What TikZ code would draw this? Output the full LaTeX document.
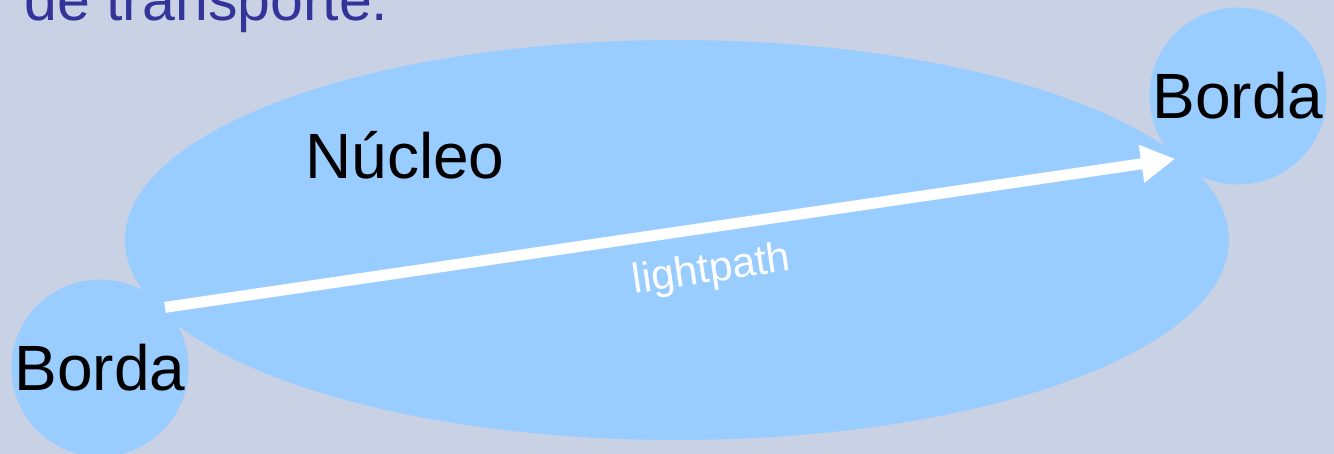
\documentclass[tikz,border=0pt]{standalone}
\usepackage{fontspec}
\setmainfont{Liberation Sans}
\usetikzlibrary{shapes.geometric, positioning, arrows.meta}
\definecolor{fundo}{HTML}{C8D2E4}
\definecolor{azulclaro}{HTML}{99CCFF}
\definecolor{azultitulo}{HTML}{333399}
\tikzset{
  nucleo/.style={ellipse, fill=azulclaro, minimum width=552pt, minimum height=200pt, inner sep=0pt},
  borda/.style={circle, fill=azulclaro, minimum size=88pt, inner sep=0pt, font=\fontsize{32}{37}\selectfont},
  arrow/.style={line width=5.5pt, white, -{Triangle[length=17pt, width=18pt]}}
}

\begin{document}
\begin{tikzpicture}[x=0.5pt, y=-0.5pt]
    \clip (0,0) rectangle (1334,454);
    \fill [fundo] (0,0) rectangle (1334,454);

    \node (titulo) [anchor=base west, text=azultitulo, font=\fontsize{29.5}{34}\selectfont, inner sep=0pt] at (24,21) {de transporte.};

    \node (core) [nucleo] at (677,240) {};
    \node (corelabel) [font=\fontsize{32}{37}\selectfont] at (405,155) {Núcleo};

    \node (lb) [borda] at (100,368) {Borda};
    \node (rb) [borda] at (1238,96) {Borda};

    % Caminho
    \draw [arrow] (lb.43) -- (rb.225)
      node [pos=0.535, sloped, below=6pt, font=\fontsize{21}{25}\selectfont] {lightpath};

\end{tikzpicture}
\end{document}
